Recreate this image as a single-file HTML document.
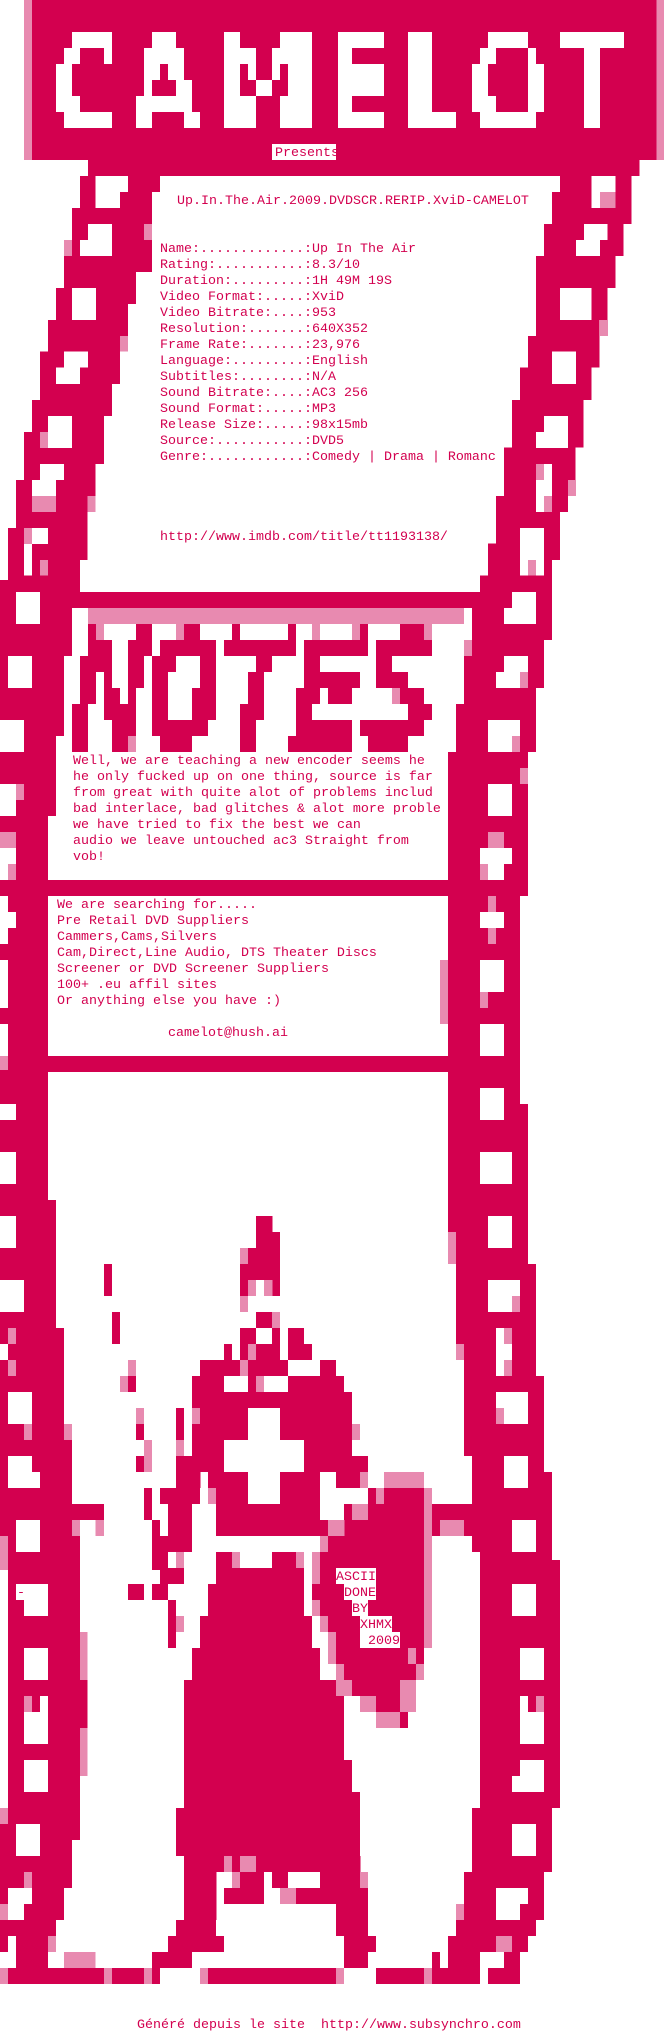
<!DOCTYPE html>
<html><head><meta charset="utf-8"><style>
html,body{margin:0;padding:0;background:#fff;}
svg{display:block;}
text{font-family:"Liberation Mono","DejaVu Sans Mono",monospace;font-size:13.33px;fill:#d3004f;white-space:pre;}
</style></head><body>
<svg width="664" height="2032" viewBox="0 0 664 2032" xmlns="http://www.w3.org/2000/svg" shape-rendering="crispEdges">
<rect width="664" height="2032" fill="#fff"/>

<!-- SECTION 1 -->
<g transform="scale(0.42347,0.38265)">
 <rect x="75" y="0" width="1475" height="418" fill="#d3004f"/>
 <rect x="57" y="0" width="18" height="418" fill="#e88ab0"/>
 <rect x="1550" y="0" width="18" height="418" fill="#e88ab0"/>
 <rect x="208" y="418" width="1302" height="42" fill="#d3004f"/>
 <rect x="642" y="376" width="151" height="42" fill="#fff"/>
 <polygon fill="#d3004f" points="189,460 189,544 170,544 170,627 151,627 151,752 132,752 132,836 113,836 113,919 94,919 94,1045 75,1045 75,1129 57,1129 57,1254 38,1254 38,1380 19,1380 19,1546 0,1546 0,1568 1304,1568 1304,1463 1322,1463 1322,1338 1341,1338 1341,1254 1359,1254 1359,1170 1378,1170 1378,1045 1397,1045 1397,961 1416,961 1416,836 1435,836 1435,752 1454,752 1454,669 1472,669 1472,585 1491,585 1491,460"/>
 <polygon fill="#fff" points="378,460 378,502 359,502 359,711 321,711 321,794 302,794 302,919 283,919 283,1003 264,1003 264,1087 245,1087 245,1213 226,1213 226,1338 207,1338 207,1463 189,1463 189,1546 1133,1546 1133,1504 1152,1504 1152,1420 1171,1420 1171,1296 1190,1296 1190,1170 1209,1170 1209,1045 1228,1045 1228,961 1247,961 1247,878 1266,878 1266,669 1285,669 1285,585 1304,585 1304,502 1322,502 1322,460"/>
 <g fill="#fff">
  <rect x="226" y="460" width="76" height="42"/><rect x="226" y="502" width="57" height="42"/>
  <rect x="208" y="585" width="56" height="42"/><rect x="189" y="627" width="75" height="42"/>
  <rect x="170" y="752" width="57" height="84"/>
  <rect x="151" y="919" width="57" height="42"/><rect x="132" y="961" width="57" height="42"/>
  <rect x="113" y="1087" width="57" height="84"/>
  <rect x="94" y="1213" width="57" height="42"/><rect x="75" y="1254" width="57" height="42"/>
  <rect x="57" y="1380" width="56" height="42"/><rect x="57" y="1422" width="19" height="82"/>
  <rect x="38" y="1546" width="56" height="22"/>
  <rect x="1397" y="460" width="57" height="84"/>
  <rect x="1379" y="585" width="56" height="42"/><rect x="1360" y="627" width="57" height="42"/>
  <rect x="1322" y="752" width="75" height="84"/>
  <rect x="1304" y="919" width="56" height="84"/>
  <rect x="1285" y="1087" width="56" height="42"/><rect x="1266" y="1129" width="75" height="42"/>
  <rect x="1266" y="1213" width="38" height="125"/>
  <rect x="1228" y="1380" width="57" height="124"/>
  <rect x="1209" y="1546" width="57" height="22"/>
 </g>
 <g fill="#e88ab0">
  <rect x="340" y="585" width="19" height="42"/><rect x="151" y="627" width="19" height="42"/><rect x="283" y="878" width="19" height="41"/>
  <rect x="94" y="1129" width="19" height="42"/><rect x="75" y="1296" width="57" height="42"/><rect x="207" y="1296" width="19" height="42"/>
  <rect x="57" y="1380" width="19" height="42"/><rect x="94" y="1463" width="19" height="41"/>
  <rect x="1417" y="502" width="36" height="42"/><rect x="1417" y="836" width="19" height="42"/><rect x="1266" y="1213" width="19" height="42"/>
  <rect x="1341" y="1254" width="19" height="42"/><rect x="1285" y="1296" width="19" height="42"/><rect x="1247" y="1463" width="19" height="41"/>
 </g>
</g>

<!-- CAMELOT letters (pixel coords) -->
<g fill="#fff">
 <!-- C -->
 <rect x="72" y="32" width="40" height="16"/><rect x="64" y="48" width="16" height="16"/><rect x="104" y="48" width="8" height="16"/>
 <rect x="56" y="64" width="16" height="48"/><rect x="72" y="96" width="8" height="16"/><rect x="64" y="112" width="48" height="16"/>
 <!-- A -->
 <rect x="152" y="32" width="24" height="16"/><rect x="144" y="48" width="40" height="16"/>
 <rect x="144" y="64" width="16" height="16"/><rect x="168" y="64" width="16" height="16"/>
 <rect x="144" y="80" width="8" height="16"/><rect x="176" y="80" width="16" height="16"/>
 <rect x="136" y="96" width="56" height="16"/><rect x="136" y="112" width="16" height="16"/><rect x="184" y="112" width="16" height="16"/>
 <!-- M -->
 <rect x="224" y="32" width="16" height="96"/><rect x="224" y="96" width="32" height="32"/>
 <rect x="280" y="32" width="32" height="16"/><rect x="288" y="48" width="24" height="80"/><rect x="280" y="96" width="32" height="32"/>
 <rect x="240" y="48" width="16" height="16"/><rect x="272" y="48" width="16" height="16"/>
 <rect x="248" y="64" width="8" height="16"/><rect x="272" y="64" width="8" height="16"/>
 <rect x="256" y="80" width="16" height="16"/>
 <!-- E -->
 <rect x="338" y="32" width="46" height="16"/><rect x="338" y="48" width="14" height="80"/>
 <rect x="338" y="64" width="46" height="32"/><rect x="338" y="112" width="46" height="16"/>
 <!-- L -->
 <rect x="408" y="32" width="24" height="96"/><rect x="408" y="112" width="48" height="16"/>
 <!-- O -->
 <rect x="488" y="32" width="40" height="16"/><rect x="480" y="48" width="16" height="16"/><rect x="528" y="48" width="8" height="16"/>
 <rect x="472" y="64" width="16" height="32"/><rect x="528" y="64" width="16" height="32"/>
 <rect x="472" y="96" width="24" height="16"/><rect x="528" y="96" width="16" height="16"/>
 <rect x="480" y="112" width="56" height="16"/>
 <!-- T -->
 <rect x="560" y="32" width="64" height="16"/><rect x="584" y="48" width="16" height="80"/>
</g>

<!-- SECTION 2 -->
<g transform="translate(0,580) scale(0.42347,0.33333)">
 <polygon fill="#d3004f" points="0,0 1304,0 1304,180 1285,180 1285,324 1266,324 1266,516 1247,516 1247,948 1228,948 1228,1500 0,1500"/>
 <rect x="189" y="0" width="944" height="36" fill="#fff"/>
 <polygon fill="#fff" points="170,84 1115,84 1115,180 1096,180 1096,372 1077,372 1077,516 1058,516 1058,900 113,900 113,708 132,708 132,468 151,468 151,228 170,228"/>
 <rect x="113" y="948" width="945" height="480" fill="#fff"/>
 <rect x="113" y="1476" width="945" height="24" fill="#fff"/>
 <rect x="208" y="84" width="888" height="48" fill="#e88ab0"/>
 <g fill="#fff">
  <rect x="38" y="36" width="56" height="96"/>
  <rect x="19" y="228" width="57" height="96"/>
  <rect x="0" y="420" width="57" height="96"/>
  <rect x="0" y="612" width="38" height="96"/>
  <rect x="0" y="804" width="38" height="96"/>
  <rect x="0" y="948" width="19" height="144"/><rect x="19" y="996" width="19" height="48"/>
  <rect x="0" y="1140" width="19" height="144"/>
  <rect x="0" y="1332" width="19" height="96"/>
  <rect x="1209" y="36" width="57" height="48"/><rect x="1190" y="84" width="76" height="48"/>
  <rect x="1190" y="228" width="57" height="48"/><rect x="1171" y="276" width="76" height="48"/>
  <rect x="1152" y="420" width="76" height="96"/>
  <rect x="1152" y="612" width="57" height="96"/>
  <rect x="1133" y="804" width="76" height="48"/><rect x="1133" y="852" width="57" height="48"/>
  <rect x="1133" y="996" width="57" height="48"/>
  <rect x="1133" y="1140" width="57" height="96"/>
  <rect x="1133" y="1332" width="57" height="96"/>
 </g>
 <g fill="#e88ab0">
  <rect x="38" y="612" width="19" height="48"/><rect x="0" y="756" width="38" height="48"/><rect x="19" y="852" width="19" height="48"/>
  <rect x="1096" y="180" width="19" height="48"/><rect x="1228" y="276" width="19" height="48"/><rect x="1209" y="468" width="19" height="48"/>
  <rect x="1228" y="564" width="19" height="48"/><rect x="1152" y="756" width="38" height="48"/><rect x="1133" y="852" width="19" height="48"/>
  <rect x="1152" y="948" width="19" height="48"/><rect x="1152" y="1044" width="19" height="48"/>
  <rect x="1039" y="1140" width="19" height="192"/><rect x="1133" y="1236" width="19" height="48"/><rect x="0" y="1428" width="19" height="48"/>
 </g>
</g>

<!-- NOTES letters (pixel coords) -->
<g fill="#d3004f">
 <rect x="88" y="624" width="8" height="16"/><rect x="136" y="624" width="16" height="16"/><rect x="184" y="624" width="16" height="16"/><rect x="232" y="624" width="8" height="16"/><rect x="288" y="624" width="8" height="16"/><rect x="360" y="624" width="8" height="16"/><rect x="400" y="624" width="24" height="16"/>
 <rect x="88" y="640" width="24" height="16"/><rect x="128" y="640" width="24" height="16"/><rect x="160" y="640" width="56" height="16"/><rect x="224" y="640" width="72" height="16"/><rect x="304" y="640" width="64" height="16"/><rect x="376" y="640" width="56" height="16"/>
 <rect x="80" y="656" width="32" height="16"/><rect x="128" y="656" width="16" height="16"/><rect x="152" y="656" width="24" height="16"/><rect x="200" y="656" width="16" height="16"/><rect x="256" y="656" width="16" height="16"/><rect x="304" y="656" width="16" height="16"/><rect x="376" y="656" width="16" height="16"/>
 <rect x="80" y="672" width="16" height="16"/><rect x="104" y="672" width="8" height="16"/><rect x="128" y="672" width="16" height="16"/><rect x="152" y="672" width="16" height="16"/><rect x="200" y="672" width="16" height="16"/><rect x="248" y="672" width="16" height="16"/><rect x="304" y="672" width="56" height="16"/><rect x="376" y="672" width="32" height="16"/>
 <rect x="80" y="688" width="16" height="16"/><rect x="104" y="688" width="16" height="16"/><rect x="128" y="688" width="8" height="16"/><rect x="152" y="688" width="16" height="16"/><rect x="192" y="688" width="24" height="16"/><rect x="248" y="688" width="16" height="16"/><rect x="296" y="688" width="24" height="16"/><rect x="328" y="688" width="24" height="16"/><rect x="400" y="688" width="24" height="16"/>
 <rect x="72" y="704" width="16" height="16"/><rect x="104" y="704" width="32" height="16"/><rect x="152" y="704" width="16" height="16"/><rect x="192" y="704" width="24" height="16"/><rect x="240" y="704" width="24" height="16"/><rect x="296" y="704" width="16" height="16"/><rect x="408" y="704" width="24" height="16"/>
 <rect x="72" y="720" width="16" height="16"/><rect x="112" y="720" width="24" height="16"/><rect x="152" y="720" width="56" height="16"/><rect x="240" y="720" width="16" height="16"/><rect x="296" y="720" width="56" height="16"/><rect x="360" y="720" width="64" height="16"/>
 <rect x="72" y="736" width="16" height="16"/><rect x="112" y="736" width="16" height="16"/><rect x="160" y="736" width="32" height="16"/><rect x="240" y="736" width="16" height="16"/><rect x="288" y="736" width="64" height="16"/><rect x="368" y="736" width="40" height="16"/>
</g>
<g fill="#e88ab0">
 <rect x="96" y="624" width="8" height="16"/><rect x="176" y="624" width="8" height="16"/><rect x="312" y="624" width="8" height="16"/><rect x="352" y="624" width="8" height="16"/><rect x="424" y="624" width="8" height="16"/>
 <rect x="392" y="688" width="8" height="16"/><rect x="128" y="736" width="8" height="16"/>
</g>

<!-- SECTION 3 -->
<g transform="translate(0,1070) scale(0.42347,0.33333)">
 <polygon fill="#d3004f" points="0,0 1228,0 1228,102 1247,102 1247,582 1266,582 1266,918 1285,918 1285,1206 1304,1206 1304,1500 0,1500"/>
 <polygon fill="#fff" points="113,6 1058,6 1058,486 1077,486 1077,822 1096,822 1096,1158 1115,1158 1115,1446 1133,1446 1133,1500 189,1500 189,1350 245,1350 245,1302 170,1302 170,1062 151,1062 151,774 132,774 132,390 113,390"/>
 <g fill="#fff">
  <rect x="0" y="102" width="38" height="48"/><rect x="0" y="246" width="38" height="96"/><rect x="0" y="438" width="38" height="96"/>
  <rect x="0" y="630" width="57" height="96"/><rect x="0" y="822" width="19" height="48"/>
  <rect x="19" y="966" width="57" height="96"/><rect x="19" y="1158" width="57" height="48"/><rect x="19" y="1206" width="76" height="48"/>
  <rect x="38" y="1350" width="57" height="96"/>
  <rect x="1133" y="54" width="57" height="96"/><rect x="1133" y="246" width="76" height="96"/>
  <rect x="1152" y="438" width="57" height="96"/><rect x="1152" y="630" width="76" height="96"/>
  <rect x="1171" y="774" width="38" height="144"/><rect x="1171" y="966" width="76" height="96"/>
  <rect x="1190" y="1158" width="57" height="96"/><rect x="1209" y="1350" width="57" height="96"/>
 </g>
 <g fill="#d3004f">
  <rect x="605" y="438" width="38" height="48"/><rect x="605" y="486" width="56" height="48"/><rect x="586" y="534" width="75" height="48"/>
  <rect x="567" y="582" width="94" height="48"/><rect x="567" y="630" width="19" height="48"/><rect x="642" y="630" width="19" height="48"/>
  <rect x="245" y="582" width="19" height="96"/><rect x="264" y="726" width="19" height="96"/>
  <rect x="605" y="726" width="38" height="48"/><rect x="567" y="774" width="38" height="48"/><rect x="642" y="774" width="19" height="48"/><rect x="680" y="774" width="38" height="48"/>
  <rect x="529" y="822" width="19" height="48"/><rect x="567" y="822" width="19" height="48"/><rect x="605" y="822" width="56" height="48"/><rect x="680" y="822" width="57" height="48"/>
  <rect x="472" y="870" width="208" height="48"/><rect x="756" y="870" width="38" height="48"/>
  <rect x="453" y="918" width="76" height="48"/><rect x="586" y="918" width="19" height="48"/><rect x="680" y="918" width="132" height="48"/><rect x="302" y="918" width="19" height="48"/>
  <rect x="453" y="966" width="378" height="240"/><rect x="491" y="1206" width="265" height="96"/>
  <rect x="416" y="1014" width="19" height="96"/><rect x="321" y="1062" width="19" height="48"/><rect x="321" y="1158" width="19" height="48"/>
  <rect x="416" y="1158" width="57" height="96"/><rect x="793" y="1158" width="76" height="48"/><rect x="793" y="1206" width="57" height="48"/>
  <rect x="378" y="1254" width="94" height="48"/><rect x="340" y="1254" width="19" height="96"/><rect x="869" y="1254" width="132" height="48"/>
  <rect x="510" y="1302" width="246" height="96"/><rect x="397" y="1302" width="56" height="96"/><rect x="812" y="1302" width="303" height="48"/>
  <rect x="756" y="1350" width="246" height="48"/><rect x="359" y="1350" width="19" height="48"/><rect x="1020" y="1350" width="95" height="48"/>
  <rect x="359" y="1398" width="94" height="48"/><rect x="775" y="1398" width="227" height="48"/>
  <rect x="359" y="1446" width="38" height="54"/><rect x="416" y="1446" width="19" height="54"/><rect x="510" y="1446" width="57" height="54"/><rect x="642" y="1446" width="57" height="54"/><rect x="756" y="1446" width="246" height="54"/>
  <rect x="0" y="1398" width="19" height="102"/>
 </g>
 <g fill="#fff">
  <rect x="586" y="1014" width="75" height="96"/><rect x="529" y="1110" width="189" height="96"/><rect x="586" y="1206" width="75" height="96"/>
  <rect x="529" y="918" width="57" height="48"/><rect x="624" y="918" width="56" height="48"/>
  <rect x="567" y="1446" width="75" height="40"/>
 </g>
 <g fill="#e88ab0">
  <rect x="567" y="534" width="19" height="48"/><rect x="586" y="630" width="19" height="48"/><rect x="624" y="630" width="19" height="48"/><rect x="567" y="678" width="19" height="48"/>
  <rect x="642" y="726" width="19" height="48"/><rect x="586" y="822" width="19" height="48"/><rect x="567" y="870" width="19" height="48"/><rect x="605" y="918" width="19" height="48"/>
  <rect x="302" y="870" width="19" height="48"/><rect x="283" y="918" width="19" height="48"/><rect x="321" y="1014" width="19" height="48"/><rect x="453" y="1014" width="19" height="48"/>
  <rect x="340" y="1110" width="19" height="96"/><rect x="416" y="1110" width="19" height="48"/><rect x="831" y="1062" width="19" height="48"/>
  <rect x="850" y="1206" width="19" height="48"/><rect x="907" y="1206" width="94" height="48"/><rect x="888" y="1254" width="19" height="48"/><rect x="1001" y="1254" width="19" height="246"/>
  <rect x="491" y="1254" width="19" height="48"/><rect x="831" y="1302" width="38" height="48"/><rect x="775" y="1350" width="38" height="48"/><rect x="1039" y="1350" width="57" height="48"/>
  <rect x="756" y="1398" width="19" height="48"/><rect x="737" y="1446" width="19" height="54"/><rect x="548" y="1446" width="19" height="54"/><rect x="699" y="1446" width="19" height="54"/><rect x="416" y="1446" width="19" height="54"/>
  <rect x="1058" y="486" width="19" height="96"/><rect x="1209" y="678" width="19" height="48"/><rect x="1190" y="774" width="19" height="48"/><rect x="1077" y="822" width="19" height="48"/><rect x="1190" y="870" width="19" height="48"/><rect x="1171" y="1014" width="19" height="48"/>
  <rect x="19" y="774" width="19" height="48"/><rect x="19" y="870" width="19" height="48"/><rect x="57" y="1062" width="19" height="48"/><rect x="151" y="1062" width="19" height="48"/>
  <rect x="170" y="1350" width="19" height="48"/><rect x="226" y="1350" width="19" height="48"/><rect x="0" y="1398" width="19" height="102"/>
 </g>
</g>

<!-- SECTION 4 -->
<g transform="translate(0,1560) scale(0.42347,0.33333)">
 <polygon fill="#d3004f" points="19,0 189,0 189,216 207,216 207,648 189,648 189,840 170,840 170,984 151,984 151,1080 132,1080 132,1128 113,1128 113,1224 378,1224 378,1272 0,1272 0,744 19,744"/>
 <polygon fill="#d3004f" points="1133,0 1322,0 1322,744 1304,744 1304,936 1285,936 1285,1080 1266,1080 1266,1128 1247,1128 1247,1176 1228,1176 1228,1272 1152,1272 1152,1224 1133,1224 1133,1272 888,1272 888,1224 1058,1224 1058,1128 1077,1128 1077,1080 1096,1080 1096,936 1115,936 1115,744 1133,744"/>
 <g fill="#fff">
  <rect x="38" y="72" width="75" height="48"/><rect x="57" y="120" width="56" height="48"/>
  <rect x="57" y="264" width="56" height="96"/><rect x="94" y="408" width="19" height="48"/><rect x="57" y="456" width="56" height="96"/>
  <rect x="57" y="600" width="56" height="96"/><rect x="38" y="792" width="56" height="96"/>
  <rect x="19" y="984" width="57" height="48"/><rect x="19" y="1032" width="38" height="48"/>
  <rect x="19" y="1128" width="19" height="48"/><rect x="0" y="1176" width="38" height="48"/><rect x="113" y="1176" width="38" height="48"/>
  <rect x="1209" y="72" width="57" height="96"/><rect x="1228" y="264" width="57" height="96"/>
  <rect x="1228" y="408" width="19" height="48"/><rect x="1228" y="456" width="57" height="96"/>
  <rect x="1228" y="600" width="57" height="48"/><rect x="1209" y="648" width="76" height="48"/>
  <rect x="1209" y="792" width="57" height="96"/>
  <rect x="1171" y="984" width="76" height="48"/><rect x="1171" y="1032" width="57" height="48"/>
  <rect x="1133" y="1176" width="57" height="48"/>
 </g>
 <g fill="#d3004f">
  <rect x="510" y="0" width="208" height="72"/><rect x="491" y="72" width="227" height="96"/><rect x="472" y="168" width="265" height="96"/>
  <rect x="453" y="264" width="303" height="96"/><rect x="435" y="360" width="377" height="240"/><rect x="435" y="600" width="396" height="96"/>
  <rect x="435" y="696" width="415" height="48"/><rect x="416" y="744" width="434" height="144"/><rect x="435" y="888" width="416" height="48"/>
  <rect x="435" y="936" width="76" height="144"/><rect x="567" y="936" width="57" height="48"/><rect x="642" y="936" width="38" height="48"/><rect x="756" y="936" width="95" height="48"/>
  <rect x="529" y="984" width="94" height="48"/><rect x="680" y="984" width="189" height="48"/><rect x="793" y="1032" width="76" height="96"/>
  <rect x="416" y="1080" width="94" height="48"/><rect x="397" y="1128" width="132" height="48"/><rect x="359" y="1176" width="94" height="48"/>
  <rect x="812" y="1128" width="76" height="48"/><rect x="812" y="1176" width="57" height="48"/>
  <rect x="491" y="1224" width="302" height="48"/><rect x="1020" y="1176" width="19" height="48"/>
  <rect x="359" y="0" width="38" height="24"/><rect x="378" y="24" width="57" height="48"/><rect x="302" y="72" width="38" height="48"/><rect x="359" y="72" width="38" height="48"/><rect x="397" y="120" width="19" height="144"/>
  <rect x="737" y="0" width="264" height="168"/><rect x="756" y="168" width="245" height="48"/><rect x="775" y="216" width="226" height="96"/>
  <rect x="793" y="312" width="208" height="48"/><rect x="793" y="360" width="189" height="48"/><rect x="850" y="408" width="113" height="48"/><rect x="888" y="456" width="75" height="48"/>
 </g>
 <g fill="#fff">
  <rect x="567" y="0" width="75" height="24"/>
  <rect x="793" y="24" width="95" height="48"/><rect x="812" y="72" width="76" height="48"/><rect x="831" y="120" width="38" height="48"/>
  <rect x="850" y="168" width="76" height="48"/><rect x="850" y="216" width="95" height="48"/>
  <rect x="548" y="936" width="19" height="48"/>
 </g>
 <g fill="#e88ab0">
  <rect x="0" y="0" width="19" height="24"/><rect x="416" y="0" width="19" height="24"/><rect x="548" y="0" width="19" height="24"/><rect x="699" y="0" width="19" height="24"/><rect x="737" y="0" width="19" height="72"/>
  <rect x="1001" y="0" width="19" height="264"/><rect x="737" y="120" width="19" height="48"/><rect x="756" y="168" width="19" height="48"/><rect x="416" y="168" width="19" height="48"/>
  <rect x="775" y="216" width="19" height="96"/><rect x="963" y="264" width="19" height="48"/><rect x="793" y="312" width="19" height="48"/><rect x="982" y="312" width="19" height="48"/>
  <rect x="793" y="360" width="38" height="48"/><rect x="945" y="360" width="37" height="96"/><rect x="850" y="408" width="38" height="48"/><rect x="888" y="456" width="57" height="48"/>
  <rect x="189" y="216" width="18" height="144"/><rect x="189" y="504" width="18" height="144"/><rect x="57" y="408" width="19" height="48"/>
  <rect x="0" y="744" width="19" height="48"/><rect x="57" y="936" width="19" height="48"/><rect x="0" y="1032" width="19" height="48"/>
  <rect x="113" y="1128" width="19" height="48"/><rect x="151" y="1176" width="75" height="48"/>
  <rect x="0" y="1224" width="19" height="48"/><rect x="245" y="1224" width="19" height="48"/><rect x="340" y="1224" width="19" height="48"/><rect x="472" y="1224" width="19" height="48"/><rect x="793" y="1224" width="19" height="48"/><rect x="1001" y="1224" width="19" height="48"/>
  <rect x="529" y="888" width="19" height="48"/><rect x="567" y="888" width="38" height="48"/><rect x="548" y="936" width="19" height="48"/><rect x="850" y="936" width="19" height="48"/><rect x="661" y="984" width="38" height="48"/>
  <rect x="1266" y="408" width="19" height="48"/><rect x="1077" y="1032" width="19" height="48"/><rect x="1171" y="1128" width="38" height="48"/>
 </g>
</g>

<!-- TEXT -->
<text x="275" y="156">Presents</text>
<text x="177" y="204">Up.In.The.Air.2009.DVDSCR.RERIP.XviD-CAMELOT</text>
<text x="160" y="252">Name:.............:Up In The Air</text>
<text x="160" y="268">Rating:...........:8.3/10</text>
<text x="160" y="284">Duration:.........:1H 49M 19S</text>
<text x="160" y="300">Video Format:.....:XviD</text>
<text x="160" y="316">Video Bitrate:....:953</text>
<text x="160" y="332">Resolution:.......:640X352</text>
<text x="160" y="348">Frame Rate:.......:23,976</text>
<text x="160" y="364">Language:.........:English</text>
<text x="160" y="380">Subtitles:........:N/A</text>
<text x="160" y="396">Sound Bitrate:....:AC3 256</text>
<text x="160" y="412">Sound Format:.....:MP3</text>
<text x="160" y="428">Release Size:.....:98x15mb</text>
<text x="160" y="444">Source:...........:DVD5</text>
<text x="160" y="460">Genre:............:Comedy | Drama | Romanc</text>
<text x="160" y="540">http://www.imdb.com/title/tt1193138/</text>

<text x="73" y="764">Well, we are teaching a new encoder seems he</text>
<text x="73" y="780">he only fucked up on one thing, source is far</text>
<text x="73" y="796">from great with quite alot of problems includ</text>
<text x="73" y="812">bad interlace, bad glitches &amp; alot more proble</text>
<text x="73" y="828">we have tried to fix the best we can</text>
<text x="73" y="844">audio we leave untouched ac3 Straight from</text>
<text x="73" y="860">vob!</text>

<text x="57" y="908">We are searching for.....</text>
<text x="57" y="924">Pre Retail DVD Suppliers</text>
<text x="57" y="940">Cammers,Cams,Silvers</text>
<text x="57" y="956">Cam,Direct,Line Audio, DTS Theater Discs</text>
<text x="57" y="972">Screener or DVD Screener Suppliers</text>
<text x="57" y="988">100+ .eu affil sites</text>
<text x="57" y="1004">Or anything else you have :)</text>
<text x="168" y="1036">camelot@hush.ai</text>

<text x="336" y="1580">ASCII</text>
<text x="344" y="1596">DONE</text>
<text x="352" y="1612">BY</text>
<text x="360" y="1628">XHMX</text>
<text x="368" y="1644">2009</text>
<text x="17" y="1596">-</text>

<text x="137" y="2028">Généré depuis le site  http://www.subsynchro.com</text>
</svg>
</body></html>
